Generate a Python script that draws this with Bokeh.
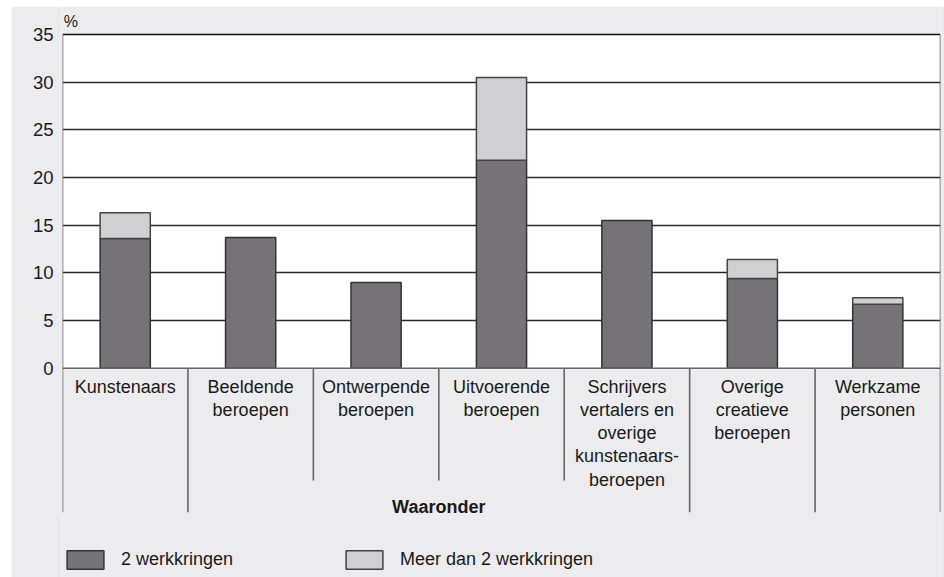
from bokeh.plotting import figure
from bokeh.models import Legend, LegendItem, FixedTicker, ColumnDataSource, Spacer
from bokeh.layouts import column, row
from bokeh.embed import file_html
from bokeh.resources import INLINE
from bokeh.core.properties import value

# ---- data ----
categories = [
    "Kunstenaars",
    "Beeldende\nberoepen",
    "Ontwerpende\nberoepen",
    "Uitvoerende\nberoepen",
    "Schrijvers\nvertalers en\noverige\nkunstenaars-\nberoepen",
    "Overige\ncreatieve\nberoepen",
    "Werkzame\npersonen",
]
twee_werkkringen = [13.6, 13.7, 9.0, 21.8, 15.5, 9.4, 6.7]
meer_dan_twee = [2.7, None, None, 8.7, None, 2.0, 0.7]
y_ticks = [0, 5, 10, 15, 20, 25, 30, 35]
series_names = ["2 werkkringen", "Meer dan 2 werkkringen"]
group_label = "Waaronder"
unit_label = "%"
# separators below the axis: True = long line (outside the "Waaronder" group)
long_separator = [True, True, False, False, False, True, True, True]

# ---- layout (page pixels) ----
FONT = value("Liberation Sans")
TXT = "#1a1a1a"
GRAY_BG = "#ececee"
DARK = "#757278"
LIGHT = "#d0d0d2"
PAGE_LEFT, PAGE_TOP = 11, 6
W, H = 944 - PAGE_LEFT, 577 - PAGE_TOP
LEFT, RIGHT = 62 - PAGE_LEFT, 4
PX_MAX = 34.0      # page y of 35
PX_ZERO = 367.7    # page y of 0
ymax = y_ticks[-1]
ppu = (PX_ZERO - PX_MAX) / ymax
y_end = ymax + (PX_MAX - PAGE_TOP) / ppu
y_start = -(PAGE_TOP + H - PX_ZERO) / ppu


def yd(px):
    return (PX_ZERO - px) / ppu


n = len(categories)
p = figure(width=W, height=H, x_range=(0, n), y_range=(y_start, y_end),
           output_backend="svg", toolbar_location=None, x_axis_location=None,
           min_border_left=LEFT, min_border_right=RIGHT, min_border_top=0,
           min_border_bottom=0)
p.background_fill_color = "white"
p.border_fill_color = GRAY_BG
p.outline_line_color = None
p.xgrid.visible = False
p.ygrid.ticker = FixedTicker(ticks=y_ticks[1:-1])
p.ygrid.grid_line_color = "#2a2a2a"
p.ygrid.grid_line_width = 1.4

ax = p.yaxis[0]
ax.ticker = FixedTicker(ticks=y_ticks)
ax.axis_line_color = None
ax.major_tick_line_color = None
ax.minor_tick_line_color = None
ax.major_tick_out = 0
ax.major_tick_in = 0
ax.major_label_standoff = 9
ax.major_label_text_font = "Liberation Sans"
ax.major_label_text_font_size = "18.5px"
ax.major_label_text_color = TXT

# gray regions outside the plotting box
p.quad(left=[0, 0], right=[n, n], bottom=[y_start, ymax], top=[0, y_end],
       fill_color=GRAY_BG, line_color=None)

# bars
xs = [i + 0.5 for i in range(n)]
src_dark = ColumnDataSource(dict(x=xs, top=twee_werkkringen))
r_dark = p.vbar(x="x", top="top", bottom=0, width=0.4, source=src_dark,
                fill_color=DARK, line_color="#333333", line_width=1.5)
mx, mb, mt = [], [], []
for x, d, m in zip(xs, twee_werkkringen, meer_dan_twee):
    if m is not None:
        mx.append(x)
        mb.append(d)
        mt.append(d + m)
src_light = ColumnDataSource(dict(x=mx, bottom=mb, top=mt))
r_light = p.vbar(x="x", top="top", bottom="bottom", width=0.4, source=src_light,
                 fill_color=LIGHT, line_color="#444444", line_width=1.5)

# box lines
p.segment(x0=[0], y0=[ymax], x1=[n], y1=[ymax], line_color="#111111", line_width=1.5)
p.segment(x0=[0], y0=[0], x1=[n], y1=[0], line_color="#666666", line_width=1.5)

# separators
short_end = yd(480)
long_end = yd(511.7)
sx, sy0, sy1 = [], [], []
for i, lg in enumerate(long_separator):
    sx.append(i)
    sy0.append(ymax if i in (0, n) else 0)
    sy1.append(long_end if lg else short_end)
p.segment(x0=sx, y0=sy0, x1=sx, y1=sy1, line_color="#666666", line_width=1.6)

# category labels (one row per line)
tx, ty, tt = [], [], []
for i, c in enumerate(categories):
    for k, line in enumerate(c.split("\n")):
        tx.append(i + 0.5)
        ty.append(yd(386 + 23.3 * k))
        tt.append(line)
p.text(x=tx, y=ty, text=tt, text_align="center", text_baseline="middle",
       text_font=FONT, text_font_size="18px", text_color=TXT)

# group label
p.text(x=[3.0], y=[yd(506)], text=[group_label], text_align="center",
       text_baseline="middle", text_font=FONT, text_font_size="18px",
       text_font_style="bold", text_color=TXT)

# unit label
p.text(x=[0.01], y=[yd(21)], text=[unit_label], text_align="left",
       text_baseline="middle", text_font=FONT, text_font_size="16px",
       text_color=TXT)

# legends
for r, name, xloc in [(r_dark, series_names[0], 0), (r_light, series_names[1], 279)]:
    lg = Legend(items=[LegendItem(label=name, renderers=[r])], location=(xloc, 6),
                orientation="horizontal", glyph_width=46, glyph_height=23,
                label_standoff=13, padding=0, margin=0, spacing=0,
                border_line_color=None, background_fill_alpha=0,
                label_text_font="Liberation Sans", label_text_font_size="18px",
                label_text_color=TXT, label_height=23)
    p.add_layout(lg, "center")

page = column(Spacer(height=PAGE_TOP, width=W + PAGE_LEFT),
              row(Spacer(width=PAGE_LEFT, height=H), p))
open("out.html", "w").write(file_html(page, INLINE))
